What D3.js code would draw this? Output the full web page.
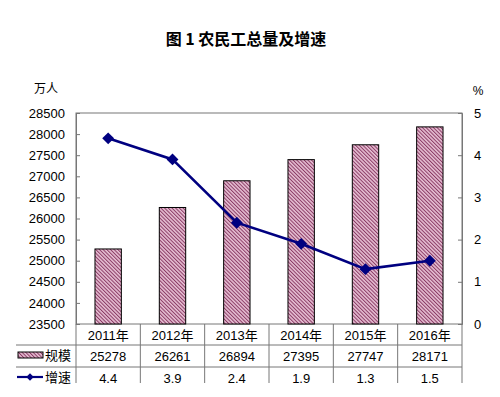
<!DOCTYPE html>
<html>
  <head>
    <meta charset="utf-8">
    <title>农民工总量及增速</title>
    <script type="text/javascript" src="https://d3js.org/d3.v7.min.js"></script>
    <style>
      html, body { margin: 0; background: #fff; }
      text { font-family: "Liberation Sans", Arial, "Noto Sans CJK SC", sans-serif; fill: #000; }
      .cjk { font-family: "Noto Sans CJK SC", sans-serif; }
    </style>
  </head>
  <body>
    <script>

    var years = ["2011年", "2012年", "2013年", "2014年", "2015年", "2016年"];
    var scale = [25278, 26261, 26894, 27395, 27747, 28171];   // 规模 (万人)
    var growth = [4.4, 3.9, 2.4, 1.9, 1.3, 1.5];             // 增速 (%)
    var leftTicks = [23500, 24000, 24500, 25000, 25500, 26000, 26500, 27000, 27500, 28000, 28500];
    var rightTicks = [0, 1, 2, 3, 4, 5];

    // plot area edges (note: "top" is reserved on window)
    var pL = 76, pR = 462, pT = 113, pB = 324;
    var tableRows = [324, 345, 367, 383];

    var svg = d3.select("body").append("svg")
                .attr("width", 500).attr("height", 397);

    // hatch pattern for bars
    var pat = svg.append("defs").append("pattern")
      .attr("id", "hatch").attr("patternUnits", "userSpaceOnUse")
      .attr("width", 2.6).attr("height", 2.6)
      .attr("patternTransform", "rotate(-45)");
    pat.append("rect").attr("width", 2.6).attr("height", 2.6).attr("fill", "#e6bfd3");
    pat.append("rect").attr("width", 1).attr("height", 2.6).attr("fill", "#8a3a64");

    var x = d3.scaleBand().domain(years).range([pL, pR]);
    var y = d3.scaleLinear().domain([23500, 28500]).range([pB, pT]);
    var y2 = d3.scaleLinear().domain([0, 5]).range([pB, pT]);

    // title
    svg.append("text").attr("class", "cjk")
      .attr("x", 246).attr("y", 45).attr("text-anchor", "middle")
      .style("font-size", "16px").style("font-weight", "bold")
      .text("图 1 农民工总量及增速");

    svg.append("text").attr("class", "cjk").attr("x", 46).attr("y", 93)
      .attr("text-anchor", "middle").style("font-size", "12px").text("万人");
    svg.append("text").attr("x", 478).attr("y", 95)
      .attr("text-anchor", "middle").style("font-size", "12px").text("%");

    // plot frame
    svg.append("rect").attr("x", pL).attr("y", pT)
      .attr("width", pR - pL).attr("height", pB - pT)
      .attr("fill", "none").attr("stroke", "#777").attr("stroke-width", 1);

    // left axis
    var gl = svg.append("g").attr("transform", "translate(" + pL + ",0)")
      .call(d3.axisLeft(y).tickValues(leftTicks).tickFormat(d3.format("d"))
        .tickSize(-4).tickPadding(11));
    gl.select(".domain").attr("stroke", "#777");
    gl.selectAll(".tick line").attr("stroke", "#777");
    gl.selectAll("text").style("font-size", "13px");

    // right axis
    var gr = svg.append("g").attr("transform", "translate(" + pR + ",0)")
      .call(d3.axisRight(y2).tickValues(rightTicks).tickFormat(d3.format("d"))
        .tickSize(-4).tickPadding(12));
    gr.select(".domain").attr("stroke", "#777");
    gr.selectAll(".tick line").attr("stroke", "#777");
    gr.selectAll("text").style("font-size", "13px");

    // bars
    var bw = x.bandwidth() * 0.41;
    svg.selectAll("rect.bar").data(scale).enter().append("rect")
      .attr("class", "bar")
      .attr("x", function(d, i) { return x(years[i]) + x.bandwidth() / 2 - bw / 2; })
      .attr("y", function(d) { return y(d); })
      .attr("width", bw)
      .attr("height", function(d) { return pB - y(d); })
      .attr("fill", "url(#hatch)").attr("stroke", "#000").attr("stroke-width", 1);

    // growth line
    var line = d3.line()
      .x(function(d, i) { return x(years[i]) + x.bandwidth() / 2; })
      .y(function(d) { return y2(d); });
    svg.append("path").datum(growth).attr("d", line)
      .attr("fill", "none").attr("stroke", "#000080").attr("stroke-width", 2.6);
    svg.selectAll("path.dia").data(growth).enter().append("path")
      .attr("class", "dia")
      .attr("d", d3.symbol().type(d3.symbolDiamond2).size(90))
      .attr("transform", function(d, i) {
        return "translate(" + (x(years[i]) + x.bandwidth() / 2) + "," + y2(d) + ")";
      })
      .attr("fill", "#000080");

    // data table
    var tg = svg.append("g");
    [1, 2].forEach(function(r) {
      tg.append("line").attr("x1", 16).attr("x2", pR)
        .attr("y1", tableRows[r]).attr("y2", tableRows[r])
        .attr("stroke", "#777");
    });
    x.domain().forEach(function(c) {
      tg.append("line").attr("x1", x(c)).attr("x2", x(c))
        .attr("y1", pB).attr("y2", tableRows[3]).attr("stroke", "#777");
    });
    tg.append("line").attr("x1", pR).attr("x2", pR)
      .attr("y1", pB).attr("y2", tableRows[3]).attr("stroke", "#777");

    tg.selectAll("text.yr").data(years).enter().append("text")
      .attr("x", function(d) { return x(d) + x.bandwidth() / 2; })
      .attr("y", 340).attr("text-anchor", "middle").style("font-size", "13px")
      .text(function(d) { return d; });
    tg.selectAll("text.sc").data(scale).enter().append("text")
      .attr("x", function(d, i) { return x(years[i]) + x.bandwidth() / 2; })
      .attr("y", 361).attr("text-anchor", "middle").style("font-size", "13px")
      .text(function(d) { return d; });
    tg.selectAll("text.gr").data(growth).enter().append("text")
      .attr("x", function(d, i) { return x(years[i]) + x.bandwidth() / 2; })
      .attr("y", 383).attr("text-anchor", "middle").style("font-size", "13px")
      .text(function(d) { return d.toFixed(1); });

    // legend keys in table
    tg.append("rect").attr("x", 18).attr("y", 352).attr("width", 25).attr("height", 6)
      .attr("fill", "url(#hatch)").attr("stroke", "#000").attr("stroke-width", 1);
    tg.append("text").attr("class", "cjk").attr("x", 45).attr("y", 360)
      .style("font-size", "13px").text("规模");
    tg.append("line").attr("x1", 17).attr("x2", 43).attr("y1", 377).attr("y2", 377)
      .attr("stroke", "#000080").attr("stroke-width", 2.2);
    tg.append("path").attr("d", d3.symbol().type(d3.symbolDiamond2).size(36))
      .attr("transform", "translate(30,377)").attr("fill", "#000080");
    tg.append("text").attr("class", "cjk").attr("x", 45).attr("y", 382)
      .style("font-size", "13px").text("增速");

    </script>
  </body>
</html>
